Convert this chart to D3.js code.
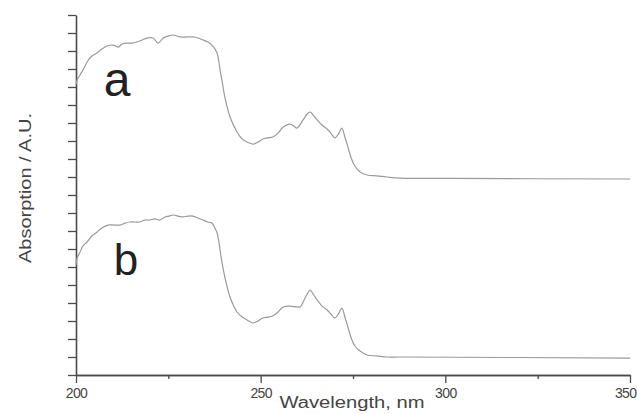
<!DOCTYPE html>
<html>
<head>
<meta charset="utf-8">
<script src="https://cdn.jsdelivr.net/npm/d3@7"></script>
<style>
  html, body { margin: 0; padding: 0; background: #fff; }
  svg { display: block; font-family: "Liberation Sans", Arial, sans-serif; }
</style>
</head>
<body>
<svg id="chart" width="637" height="414"></svg>
<script>
// UV absorption spectra, two samples stacked with a vertical offset
const wavelengthA = [200.0,200.3,201.1,201.9,203.0,204.3,205.7,207.0,208.4,210.0,211.4,212.5,213.8,215.2,216.5,217.9,219.2,220.9,222.2,223.6,224.9,226.3,228.2,230.1,231.7,233.0,234.4,235.7,236.8,237.6,238.2,238.7,239.0,239.5,240.3,241.7,243.6,245.0,246.3,247.9,249.3,250.6,252.0,253.3,254.7,256.1,257.9,259.0,259.8,261.5,262.6,263.4,264.2,265.3,266.6,268.0,269.0,270.1,271.2,272.0,272.8,273.7,274.5,275.5,276.9,278.8,281.5,284.2,287.7,301.3,350.0];
const absorbA = [16.11,16.39,16.67,16.94,17.39,17.72,17.89,18.11,18.28,18.33,18.22,18.39,18.44,18.44,18.5,18.61,18.72,18.72,18.44,18.72,18.83,18.89,18.78,18.78,18.78,18.72,18.61,18.5,18.33,18.11,17.89,17.39,16.94,16.39,15.44,14.33,13.5,13.11,12.94,12.83,12.94,13.11,13.17,13.22,13.44,13.78,13.94,13.83,13.72,14.17,14.5,14.61,14.44,14.17,13.89,13.67,13.44,13.17,13.44,13.72,13.22,12.61,12.06,11.61,11.28,11.11,11.06,11.0,10.94,10.92,10.89];

const wavelengthB = [200.0,200.3,201.1,201.9,203.0,204.3,205.7,207.0,208.7,210.3,211.9,213.3,214.6,216.0,217.3,218.7,220.0,221.4,222.7,224.1,225.2,226.3,227.6,229.0,230.3,231.7,233.0,234.4,235.7,236.8,237.6,238.2,238.7,239.0,239.5,240.3,241.7,243.6,245.0,246.3,247.9,249.3,250.6,252.0,253.3,254.7,256.1,257.9,259.8,260.7,261.5,262.6,263.4,264.2,265.3,266.6,268.0,269.0,270.1,271.2,272.0,272.8,273.7,274.5,275.5,276.9,278.8,281.5,284.2,287.7,350.0];
const absorbB = [6.11,6.5,6.83,7.17,7.39,7.72,7.94,8.17,8.33,8.33,8.33,8.44,8.5,8.5,8.5,8.61,8.61,8.67,8.61,8.78,8.83,8.89,8.83,8.78,8.83,8.83,8.72,8.61,8.5,8.44,8.17,7.89,7.39,6.94,6.28,5.44,4.33,3.5,3.22,3.06,2.89,3.0,3.17,3.22,3.28,3.5,3.78,3.83,3.78,3.78,4.06,4.5,4.72,4.5,4.17,3.83,3.61,3.39,3.17,3.44,3.72,3.22,2.61,2.06,1.61,1.33,1.11,1.06,1.0,1.0,0.94];

const xMajorTicks = [200, 250, 300, 350];
const xMinorTicks = [225, 275, 325];
const yTicks = d3.range(0, 21);
const curveLabels = ["a", "b"];

const svg = d3.select("#chart");
const x = d3.scaleLinear().domain([200, 350]).range([76, 630]);
const y = d3.scaleLinear().domain([0, 20]).range([375, 15]);

const axisColor = "#4a4a4a";

// minor x ticks (no labels)
const xMinor = svg.append("g")
  .attr("transform", `translate(0,${y(0)})`)
  .call(d3.axisBottom(x).tickValues(xMinorTicks).tickSize(4).tickSizeOuter(0).tickFormat(""));

// major x ticks with labels
const xMajor = svg.append("g")
  .attr("transform", `translate(0,${y(0)})`)
  .call(d3.axisBottom(x).tickValues(xMajorTicks).tickSize(8).tickSizeOuter(0).tickPadding(5));

// y axis: ticks only
const yAxis = svg.append("g")
  .attr("transform", `translate(${x(200)},0)`)
  .call(d3.axisLeft(y).tickValues(yTicks).tickSize(8).tickSizeOuter(0).tickFormat(""));

[xMinor, xMajor, yAxis].forEach(g => {
  g.select(".domain").attr("stroke", axisColor).attr("stroke-width", 1.6);
  g.selectAll(".tick line").attr("stroke", axisColor).attr("stroke-width", 1.3);
});
xMajor.selectAll(".tick text")
  .attr("fill", "#444")
  .attr("font-size", 14)
  .attr("letter-spacing", -0.6);
// keep the last label inside the frame
xMajor.selectAll(".tick text")
  .filter(d => d === 350)
  .attr("text-anchor", "end")
  .attr("x", 6);

// spectra
const line = d3.line().x(d => x(d[0])).y(d => y(d[1])).curve(d3.curveCatmullRom.alpha(0.5));
const seriesA = wavelengthA.map((w, i) => [w, absorbA[i]]);
const seriesB = wavelengthB.map((w, i) => [w, absorbB[i]]);
[seriesA, seriesB].forEach(s => {
  svg.append("path")
    .datum(s)
    .attr("fill", "none")
    .attr("stroke", "#9a9a9a")
    .attr("stroke-width", 1.2)
    .attr("d", line);
});

// curve letters
svg.append("text").attr("x", x(207.5)).attr("y", y(15.5))
  .attr("font-size", 48).attr("fill", "#222").text(curveLabels[0]);
svg.append("text").attr("x", x(210.2)).attr("y", y(5.55))
  .attr("font-size", 44).attr("fill", "#222").text(curveLabels[1]);

// axis titles
svg.append("text")
  .attr("x", 352).attr("y", 408)
  .attr("text-anchor", "middle")
  .attr("font-size", 16)
  .attr("fill", "#444")
  .attr("textLength", 145)
  .attr("lengthAdjust", "spacingAndGlyphs")
  .text("Wavelength, nm");

svg.append("text")
  .attr("transform", "translate(31,188) rotate(-90)")
  .attr("text-anchor", "middle")
  .attr("font-size", 16)
  .attr("fill", "#444")
  .attr("textLength", 150)
  .attr("lengthAdjust", "spacingAndGlyphs")
  .text("Absorption / A.U.");
</script>
</body>
</html>
